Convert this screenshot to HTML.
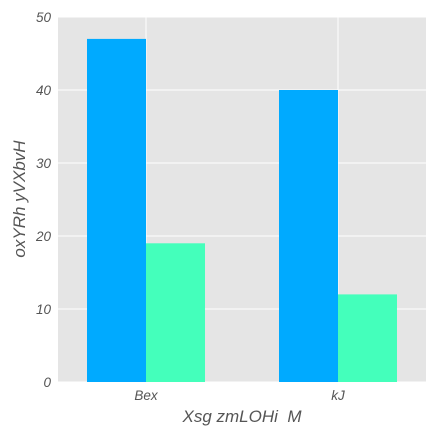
<!DOCTYPE html>
<html><head><meta charset="utf-8"><style>
body{margin:0;background:#fff;}
svg text{font-family:"Liberation Sans",sans-serif;font-style:italic;fill:#555;white-space:pre;}
</style></head><body>
<svg id="chart" width="438" height="438" xmlns="http://www.w3.org/2000/svg">
<rect x="58" y="17" width="368" height="365" fill="#e5e5e5"/>
<g id="grid"></g><g id="bars"></g><g id="axes"></g>
<text x="242" y="422" font-size="17" text-anchor="middle">Xsg zmLOHi  M</text>
<text transform="translate(25,199) rotate(-90)" font-size="17" text-anchor="middle">oxYRh yVXbvH</text>
</svg>
<script>
const categories=["Bex","kJ"];
const series1=[47,40];
const series2=[19,12];
const yTicks=[0,10,20,30,40,50];
const colors=["#00aaff","#44ffbb"];
const NS="http://www.w3.org/2000/svg";
const y=v=>382-v*7.3;
const xc=i=>146+i*192;
const bw=59;
function mk(t,a,p){const e=document.createElementNS(NS,t);for(const k in a)e.setAttribute(k,a[k]);p.appendChild(e);return e;}
const grid=document.getElementById('grid'),bars=document.getElementById('bars'),axes=document.getElementById('axes');
yTicks.forEach(v=>{
 const l=mk('line',{x1:58,x2:426,y1:y(v),y2:y(v),stroke:'#fff','stroke-width':1},grid);
 
 
 const t=mk('text',{x:51,y:y(v)+5,'font-size':13.5,'text-anchor':'end'},axes);
 t.textContent=v;
 
 
});
categories.forEach((c,i)=>{
 const l=mk('line',{x1:xc(i),x2:xc(i),y1:17,y2:382,stroke:'#fff','stroke-width':1},grid);
 
 
 const b1=mk('rect',{x:xc(i)-bw,y:y(series1[i]),width:bw,height:382-y(series1[i]),fill:colors[0]},bars);
 
 
 const b2=mk('rect',{x:xc(i),y:y(series2[i]),width:bw,height:382-y(series2[i]),fill:colors[1]},bars);
 
 
 const t=mk('text',{x:xc(i),y:400,'font-size':13.5,'text-anchor':'middle'},axes);
 t.textContent=c;
 
 
});
</script>
</body></html>
